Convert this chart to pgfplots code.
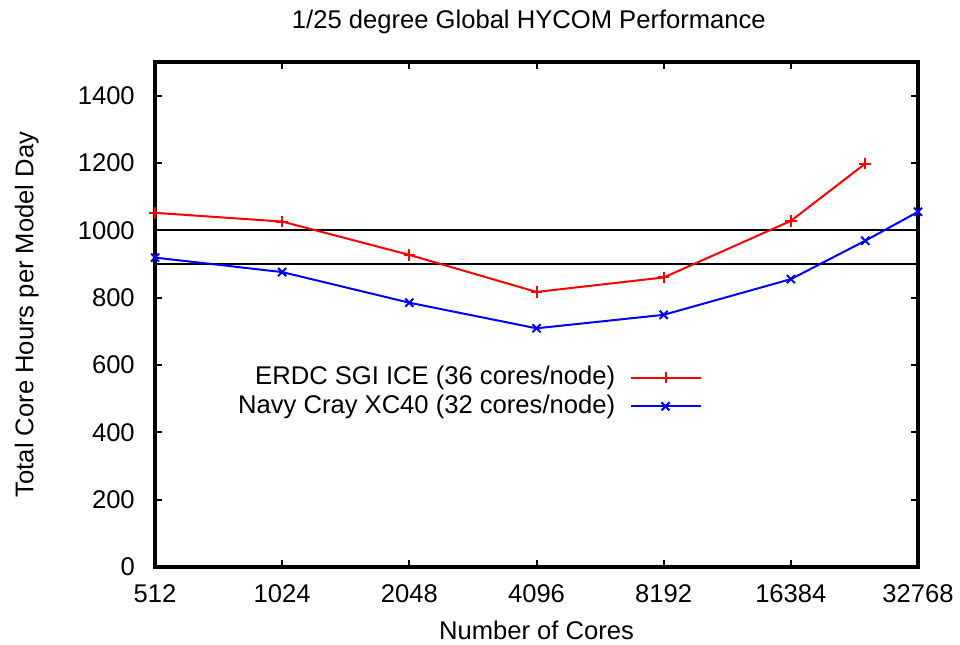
\documentclass[border=0pt]{standalone}
\usepackage{fontspec}
\setmainfont{Liberation Sans}
\usepackage{pgfplots}
\pgfplotsset{compat=1.18}
\begin{document}
\begin{tikzpicture}[x=1pt,y=1pt]
\path[use as bounding box] (-116.25pt,-58.5pt) rectangle (603.75pt,425.25pt);
\begin{axis}[
  at={(0pt,0pt)}, anchor=south west,
  scale only axis,
  width=572.25pt, height=378.75pt,
  font=\fontsize{19.2}{23}\selectfont,
  tick label style={font=\fontsize{19.2}{23}\selectfont},
  /pgf/number format/assume math mode=true,
  xmode=log, log basis x=2,
  xmin=512, xmax=32768,
  ymin=0, ymax=1500,
  xtick={512,1024,2048,4096,8192,16384,32768},
  xticklabels={512,1024,2048,4096,8192,16384,32768},
  ytick={0,200,400,600,800,1000,1200,1400},
  yticklabel={\pgfmathprintnumber[fixed,precision=0,1000 sep={}]{\tick}},
  scaled y ticks=false,
  xticklabel style={anchor=base, inner sep=0pt, yshift=-27pt},
  yticklabel style={anchor=east, inner sep=0pt, xshift=-15pt},
  tick align=inside,
  major tick length=5pt,
  every tick/.style={black, line width=1.5pt},
  axis line style={line width=2.5pt},
  title={1/25 degree Global HYCOM Performance},
  every axis title/.style={at={(axis description cs:0.49,1)}, anchor=base, yshift=25pt},
  xlabel={Number of Cores},
  ylabel={Total Core Hours per Model Day},
  every axis x label/.style={at={(axis description cs:0.5,-0.1248)}, anchor=center},
  every axis y label/.style={at={(axis description cs:-0.168,0.5)}, rotate=90, anchor=center},
  legend cell align=right,
  legend plot pos=right,
  legend style={draw=none, fill=none, at={(0.7166,0.3465)}, anchor=east,
    inner sep=0pt, row sep=2.5pt, column sep=9.75pt,
    nodes={inner sep=1pt, text height=13.5pt, text depth=3.5pt}},
  legend image code/.code={\draw[mark repeat=2,mark phase=2] plot coordinates {(0pt,0pt) (26.25pt,0pt) (52.5pt,0pt)};},
]
\addplot[black, line width=1.3pt, forget plot] coordinates {(512,1000) (32768,1000)};
\addplot[black, line width=1.3pt, forget plot] coordinates {(512,900) (32768,900)};
\addplot[red, line width=1.5pt, mark=+, mark size=4.3pt, mark options={line width=1.5pt}] coordinates {
(512,1052) (1024,1026) (2048,927) (4096,817) (8192,860) (16384,1028) (24576,1198)};
\addlegendentry{ERDC SGI ICE (36 cores/node)}
\addplot[blue, line width=1.5pt, mark=x, mark size=4.3pt, mark options={line width=1.5pt}] coordinates {
(512,919) (1024,876) (2048,785) (4096,709) (8192,749) (16384,855) (24576,969) (32768,1055)};
\addlegendentry{Navy Cray XC40 (32 cores/node)}
\end{axis}
\end{tikzpicture}
\end{document}
